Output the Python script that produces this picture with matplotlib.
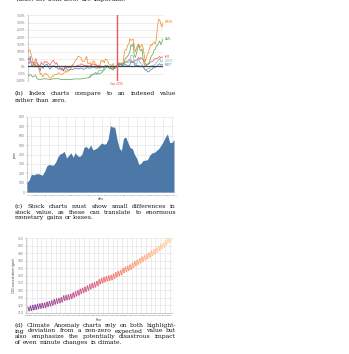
import numpy as np
import matplotlib
matplotlib.use('Agg')
import matplotlib.pyplot as plt
from matplotlib.collections import LineCollection

W, H = 349, 354
fig = plt.figure(figsize=(W / 100, H / 100), dpi=100)

# ---------------- data ----------------
# (b) monthly closing prices, Jan 2000 - Mar 2010
msft = [39.81, 36.35, 43.22, 28.37, 25.45, 32.54, 28.4, 28.4, 24.53, 28.02, 23.34, 17.65,
        24.84, 24.0, 22.25, 27.56, 28.14, 29.7, 26.93, 23.21, 20.82, 23.65, 26.12, 26.95,
        25.92, 23.73, 24.53, 21.26, 20.71, 22.25, 19.52, 19.97, 17.79, 21.75, 23.46, 21.03,
        19.31, 19.34, 19.76, 20.87, 20.09, 20.93, 21.56, 21.65, 22.69, 21.45, 21.1, 22.46,
        22.69, 21.77, 20.46, 21.45, 21.53, 23.44, 23.38, 22.47, 22.76, 23.02, 24.6, 24.52,
        24.11, 23.15, 22.24, 23.28, 23.82, 22.93, 23.64, 25.35, 23.83, 23.8, 25.71, 24.29,
        26.14, 25.04, 25.36, 22.5, 21.19, 21.8, 22.51, 24.13, 25.68, 26.96, 27.66, 28.13,
        29.07, 26.63, 26.35, 28.3, 29.11, 27.95, 27.5, 27.34, 28.04, 35.03, 32.09, 34.0,
        31.13, 26.07, 27.21, 27.34, 27.25, 26.47, 24.75, 26.36, 25.78, 21.57, 19.66, 18.91,
        16.63, 15.81, 17.99, 19.84, 20.59, 23.42, 23.18, 24.43, 25.49, 27.48, 29.27, 30.34,
        28.05, 28.67, 28.8]
amzn = [64.56, 68.87, 67.0, 55.19, 48.31, 36.31, 30.12, 41.5, 38.44, 36.62, 24.69, 15.56,
        17.31, 10.19, 10.23, 15.78, 16.69, 14.15, 12.49, 8.94, 5.97, 6.98, 11.32, 10.82,
        14.19, 14.1, 14.3, 16.69, 18.23, 16.25, 14.45, 14.94, 15.93, 19.36, 23.35, 18.89,
        21.85, 22.01, 26.03, 28.69, 35.89, 36.32, 41.64, 46.32, 48.43, 54.43, 53.97, 52.62,
        50.4, 43.01, 43.28, 43.6, 48.5, 54.4, 38.92, 38.14, 40.86, 34.13, 39.68, 44.29,
        43.22, 35.18, 34.27, 32.36, 35.51, 33.09, 45.15, 42.7, 45.3, 39.86, 48.46, 47.15,
        44.82, 37.44, 36.53, 35.21, 34.61, 38.68, 26.89, 30.83, 32.12, 38.09, 40.34, 39.46,
        37.67, 39.14, 39.79, 61.33, 69.14, 68.41, 78.54, 79.91, 93.15, 89.15, 90.56, 92.64,
        77.7, 64.47, 71.3, 78.63, 81.62, 73.33, 76.34, 80.81, 72.76, 57.24, 42.7, 51.28,
        58.82, 64.79, 73.44, 80.52, 77.99, 83.66, 85.76, 81.19, 93.36, 118.81, 135.91, 134.52,
        125.41, 118.4, 128.82]
ibm = [100.52, 92.11, 106.11, 99.95, 96.31, 98.33, 100.74, 118.62, 101.19, 88.5, 84.12, 76.47,
       100.76, 89.98, 86.63, 103.7, 100.82, 102.35, 94.87, 90.25, 82.82, 97.58, 104.5, 109.36,
       97.54, 88.82, 96.75, 76.94, 75.71, 67.92, 63.12, 68.56, 53.01, 71.76, 79.16, 70.58,
       71.22, 71.13, 71.57, 77.47, 80.48, 75.42, 74.28, 75.12, 80.91, 81.96, 83.08, 85.05,
       91.06, 88.7, 84.41, 81.04, 81.59, 81.19, 80.19, 78.17, 79.13, 82.84, 87.15, 91.16,
       86.39, 85.78, 84.66, 70.77, 70.18, 68.93, 77.53, 75.07, 74.7, 76.25, 82.98, 76.73,
       75.89, 75.09, 77.17, 77.05, 75.04, 72.15, 72.7, 76.35, 77.26, 87.06, 86.95, 91.9,
       93.79, 88.18, 89.44, 96.98, 101.54, 100.25, 105.4, 111.54, 112.6, 111.54, 100.9, 103.7,
       102.75, 109.64, 110.87, 116.23, 125.14, 114.6, 123.74, 118.16, 113.53, 90.24, 79.65, 82.15,
       89.46, 90.32, 95.09, 101.29, 104.85, 103.01, 116.34, 117.0, 118.55, 119.54, 125.79, 130.32,
       121.85, 127.16, 125.55]
aapl = [25.94, 28.66, 33.95, 31.01, 21.0, 26.19, 25.41, 30.47, 12.88, 9.78, 8.25, 7.44,
        10.81, 9.12, 11.03, 12.74, 9.98, 11.62, 9.4, 9.27, 7.76, 8.78, 10.65, 10.95,
        12.36, 10.85, 11.84, 12.14, 11.65, 8.86, 7.63, 7.38, 7.25, 8.03, 7.75, 7.16,
        7.18, 7.51, 7.07, 7.11, 8.98, 9.53, 10.54, 11.31, 10.36, 11.44, 10.45, 10.69,
        11.28, 11.96, 13.52, 12.89, 14.03, 16.27, 16.17, 17.25, 19.38, 26.2, 33.53, 32.2,
        38.45, 44.86, 41.67, 36.06, 39.76, 36.81, 42.65, 46.89, 53.61, 57.59, 67.82, 71.89,
        75.51, 68.49, 62.72, 70.39, 59.77, 57.27, 67.96, 67.85, 76.98, 81.08, 91.66, 84.84,
        85.73, 84.61, 92.91, 99.8, 121.19, 122.04, 131.76, 138.48, 153.47, 189.95, 182.22, 198.08,
        135.36, 125.02, 143.5, 173.95, 188.75, 167.44, 158.95, 169.53, 113.66, 107.59, 92.67, 85.35,
        90.13, 89.31, 105.12, 125.83, 135.81, 142.43, 163.39, 168.21, 185.35, 188.5, 199.91, 210.73,
        192.06, 204.62, 223.02]
# GOOG starts Aug 2004
goog = [102.37, 129.6, 190.64, 181.98, 192.79,
        195.62, 187.99, 180.51, 220.0, 277.27, 294.15, 287.76, 286.0, 316.46, 372.14, 404.91, 414.86,
        432.66, 362.62, 390.0, 417.94, 371.82, 419.33, 386.6, 378.53, 401.9, 476.39, 484.81, 460.48,
        501.5, 449.45, 458.16, 471.38, 497.91, 522.7, 510.0, 515.25, 567.27, 707.0, 693.0, 691.48,
        564.3, 471.18, 440.47, 574.29, 585.8, 526.42, 473.75, 463.29, 400.52, 359.36, 292.96, 307.65,
        338.53, 337.99, 348.06, 395.97, 417.23, 421.59, 443.05, 461.67, 495.85, 536.12, 583.0, 619.98,
        529.94, 526.8, 560.19]
symbols = ['MSFT', 'AMZN', 'IBM', 'GOOG', 'AAPL']
colors = ['#4c78a8', '#f58518', '#e45756', '#72b7b2', '#54a24b']
index_label = 'Sep 2006'
index_month = 80          # months after Jan 2000
goog_start = 55           # Aug 2004
b_yticks = [-100, -50, 0, 50, 100, 150, 200, 250, 300, 350]

# (c) GOOG area, Aug 2004 - Mar 2010 (same goog series)
c_yticks = [0, 100, 200, 300, 400, 500, 600, 700, 800]
month_abbr = ['Jan', 'Feb', 'Mar', 'Apr', 'May', 'Jun', 'Jul', 'Aug', 'Sep', 'Oct', 'Nov', 'Dec']

# (d) CO2 concentration at Mauna Loa: yearly seasonal peak (May) and trough (Oct)
co2_years = list(range(1958, 2019))
co2_peak = [317.5, 319.0, 319.9, 320.6, 321.5, 322.0, 322.6, 323.0, 324.4, 325.2,
            326.1, 327.6, 328.7, 329.3, 330.5, 332.7, 333.2, 334.1, 335.0, 336.8,
            338.4, 339.8, 341.8, 343.1, 344.5, 346.2, 347.9, 349.4, 350.6, 352.3,
            354.7, 356.2, 357.5, 358.7, 359.5, 360.2, 362.0, 364.0, 365.7, 366.9,
            369.8, 371.5, 372.7, 374.3, 376.5, 379.0, 380.7, 383.0, 385.1, 387.0,
            388.8, 390.6, 393.1, 394.9, 397.1, 399.7, 401.8, 404.0, 407.4, 409.8, 411.7]
co2_trough = [312.4, 312.8, 313.7, 314.4, 315.3, 315.8, 316.4, 316.8, 318.2, 319.0,
              319.9, 321.4, 322.5, 323.1, 324.3, 326.5, 327.0, 327.9, 328.8, 330.6,
              332.2, 333.6, 335.6, 336.9, 338.3, 340.0, 341.7, 343.2, 344.4, 346.1,
              348.5, 350.0, 351.3, 352.5, 353.3, 354.0, 355.8, 357.8, 359.5, 360.7,
              363.6, 365.3, 366.5, 368.1, 370.3, 372.8, 374.5, 376.8, 378.9, 380.8,
              382.6, 384.4, 386.9, 388.7, 390.9, 393.5, 395.6, 397.8, 401.2, 403.6, 405.5]
d_yticks = [310, 320, 330, 340, 350, 360, 370, 380, 390, 400, 410]

captions = {
    'top': ["value, not from zero, are important."],
    'b': ["(b) Index charts compare to an indexed value", "rather than zero."],
    'c': ["(c) Stock charts must show small differences in",
          "stock value, as these can translate to enormous",
          "monetary gains or losses."],
    'd': ["(d) Climate Anomaly charts rely on both highlight-",
          "ing deviation from a non-zero expected value but",
          "also emphasize the potentially disastrous impact",
          "of even minute changes in climate."],
}

# ---------------- helpers ----------------
TICK_FS = 2.2
TICK_C = '#777777'
GRID_C = '#e0e0e0'


def px_axes(l, t, r, b):
    return fig.add_axes([l / W, 1 - b / H, (r - l) / W, (b - t) / H])


def style(ax):
    for s in ax.spines.values():
        s.set_visible(False)
    ax.spines['left'].set_visible(True)
    ax.spines['left'].set_color('#aaaaaa')
    ax.spines['left'].set_linewidth(0.4)
    ax.tick_params(axis='both', length=1, width=0.3, color='#aaaaaa',
                   labelsize=TICK_FS, labelcolor=TICK_C, pad=0.8)
    ax.set_facecolor('white')


# ---------------- (b) index chart ----------------
axb = px_axes(28, 15.3, 163, 81)
style(axb)
series = {'MSFT': msft, 'AMZN': amzn, 'IBM': ibm, 'GOOG': goog, 'AAPL': aapl}
for sym, col in zip(symbols, colors):
    p = np.array(series[sym], dtype=float)
    start = goog_start if sym == 'GOOG' else 0
    base = p[index_month - start]
    x = np.arange(start, start + len(p))
    y = (p - base) / base * 100
    axb.plot(x, y, color=col, lw=0.55, zorder=3, alpha=0.9)
    axb.text(x[-1] + 2, y[-1], sym, color=col, fontsize=2.0, va='center', ha='left',
             clip_on=False)
axb.axhline(0, color='#3a3f4a', lw=0.9, zorder=4)
axb.axvline(index_month, color='#e8585c', lw=1.0, zorder=6)
axb.text(index_month, -104, index_label, color='#e34a4f', fontsize=2.0, ha='center', va='top')
axb.set_xlim(0, 122)
axb.set_ylim(-100, 350)
axb.set_yticks(b_yticks)
axb.set_yticklabels([f'{v}%' for v in b_yticks])
axb.set_xticks([])
axb.grid(axis='y', color=GRID_C, lw=0.4)
axb.set_axisbelow(True)

# ---------------- (c) area chart ----------------
axc = px_axes(27, 117, 174, 192)
style(axc)
axc.spines['bottom'].set_visible(True)
axc.spines['bottom'].set_color('#aaaaaa')
axc.spines['bottom'].set_linewidth(0.4)
xc = np.arange(len(goog))
axc.fill_between(xc, 0, goog, color='#4c78a8', lw=0, zorder=3)
axc.set_xlim(0, len(goog) - 1)
axc.set_ylim(0, 800)
axc.set_yticks(c_yticks)
tick_pos = [i for i in range(len(goog)) if (i + 7) % 4 == 1]
labels = []
for i in tick_pos:
    m = (i + 7) % 12
    yr = 2004 + (i + 7) // 12
    labels.append(f'{month_abbr[m]} {yr}')
axc.set_xticks(tick_pos)
axc.set_xticklabels(labels, fontsize=1.5)
axc.grid(True, color=GRID_C, lw=0.4)
axc.set_axisbelow(True)
axc.set_xlabel('date', fontsize=2.0, color='#333333', labelpad=1)
axc.set_ylabel('price', fontsize=2.0, color='#333333', labelpad=1)

# ---------------- (d) CO2 chart ----------------
axd = px_axes(26, 238.3, 172.7, 312.7)
style(axd)
axd.spines['bottom'].set_visible(True)
axd.spines['bottom'].set_color('#aaaaaa')
axd.spines['bottom'].set_linewidth(0.4)
yrs = np.array(co2_years, dtype=float)
xs = np.empty(2 * len(yrs))
ys = np.empty(2 * len(yrs))
xs[0::2] = yrs + 0.37
xs[1::2] = yrs + 0.79
ys[0::2] = co2_peak
ys[1::2] = co2_trough
t = np.linspace(0, 1, len(xs))
cmap = plt.get_cmap('magma')
cols = cmap(0.32 + 0.6 * t)
cols[:, 3] = 0.7
pts = np.column_stack([xs, ys]).reshape(-1, 1, 2)
segs = np.concatenate([pts[:-1], pts[1:]], axis=1)
lc = LineCollection(segs, colors=cols[:-1], linewidths=0.8, zorder=3)
axd.add_collection(lc)
axd.scatter(xs, ys, s=0.6, c=cols, lw=0, zorder=4)
axd.set_xlim(1957.5, 2019.3)
axd.set_ylim(310, 410)
axd.set_yticks(d_yticks)
axd.set_xticks(list(range(1958, 2019, 2)))
axd.tick_params(axis='x', labelsize=1.6, labelrotation=0)
axd.grid(True, color=GRID_C, lw=0.4)
axd.set_axisbelow(True)
axd.set_xlabel('Year', fontsize=2.0, color='#333333', labelpad=1)
axd.set_ylabel('CO2 concentration (ppm)', fontsize=2.0, color='#333333', labelpad=1)

# ---------------- captions (justified) ----------------
renderer = fig.canvas.get_renderer()
CAP_FAMILY = 'DejaVu Serif'


def measure(s, size):
    tt = fig.text(0, 0, s, fontsize=size, family=CAP_FAMILY)
    w = tt.get_window_extent(renderer).width
    tt.remove()
    return w


# size the caption font so the longest justified line fits the 161 px column
full_lines = [l for k in ('b', 'c', 'd') for l in captions[k][:-1]]
widest = max(measure(l, 5.0) for l in full_lines)
CAP_FS = 5.0 * 157.0 / widest
space_w = measure('a a', CAP_FS) - measure('aa', CAP_FS)


def caption(lines, baselines, x0=15, width=161):
    for i, (line, yb) in enumerate(zip(lines, baselines)):
        words = line.split(' ')
        objs = [fig.text(0, 0, w, fontsize=CAP_FS, family=CAP_FAMILY, color='#111111',
                         ha='left', va='baseline') for w in words]
        widths = [o.get_window_extent(renderer).width for o in objs]
        last = (i == len(lines) - 1)
        if len(words) > 1 and not last:
            gap = (width - sum(widths)) / (len(words) - 1)
        else:
            gap = space_w
        x = x0
        for o, w in zip(objs, widths):
            o.set_position((x / W, 1 - yb / H))
            x += w + gap


caption(captions['top'], [0.8])
caption(captions['b'], [95.0, 101.7])
caption(captions['c'], [208.4, 214.0, 219.4])
caption(captions['d'], [326.7, 332.5, 338.3, 344.0])

fig.savefig('out.png', dpi=100, facecolor='white')
